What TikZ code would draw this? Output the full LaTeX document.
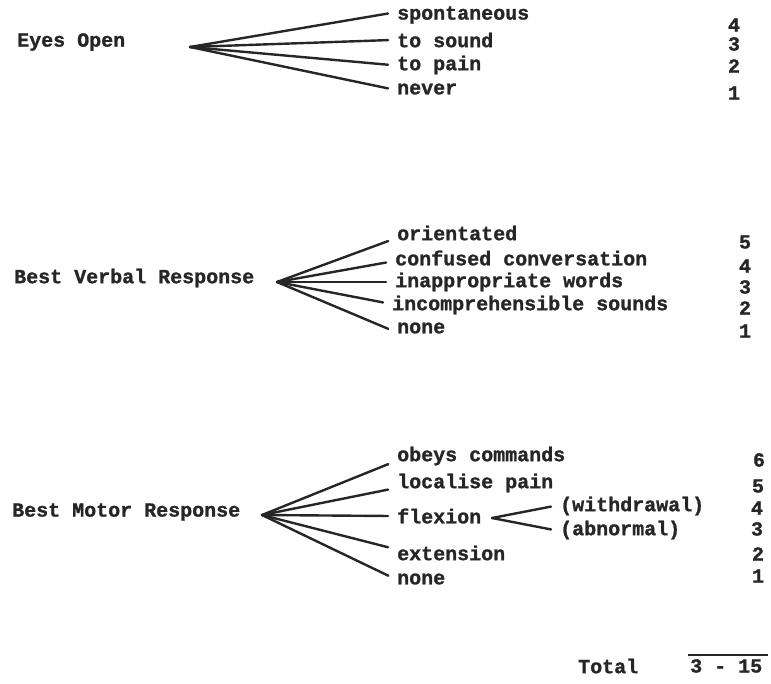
\documentclass[tikz,border=0pt]{standalone}
\usepackage{fontspec}
\setmonofont[BoldFeatures={FakeBold=1.2}]{Liberation Mono}
\usetikzlibrary{positioning}
\tikzset{
	typed/.style ={font=\ttfamily\bfseries\fontsize{20}{20}\selectfont, text=black!85},
	choice/.style={typed, anchor=west, inner xsep=6pt, inner ysep=1pt},
	score/.style ={typed, anchor=center, inner sep=0pt},
	branch/.style={line width=2.4pt, draw=black!85, line cap=round, shorten >=3pt},
}
\begin{document}
\begin{tikzpicture}[x=1pt, y=-1pt]
	\useasboundingbox (0,0) rectangle (771,683);
	% eyes open
	\node[choice] (eyes) at (11,42) {Eyes Open};
	\coordinate (heyes) at (190,47);
	\node[choice] (spon)  at (391,15) {spontaneous};
	\node[choice] (sound) at (391,40) {to sound};
	\node[choice] (pain)  at (391,65) {to pain};
	\node[choice] (never) at (391,89) {never};
	\draw[branch] (heyes) -- ([yshift=2pt]spon.west);
	\draw[branch] (heyes) -- (sound.west);
	\draw[branch] (heyes) -- (pain.west);
	\draw[branch] (heyes) -- (never.west);
	\node[score] (e4) at (734,25) {4};
	\node[score] (e3) at (734,44) {3};
	\node[score] (e2) at (734,66) {2};
	\node[score] (e1) at (734,93) {1};
	% best verbal response
	\node[choice] (verbal) at (8,278) {Best Verbal Response};
	\coordinate (hverbal) at (277,282);
	\node[choice] (orient) at (391,233) {orientated};
	\node[choice] (confus) at (389,258) {confused conversation};
	\node[choice] (inappr) at (389,282) {inappropriate words};
	\node[choice] (incomp) at (386,305) {incomprehensible sounds};
	\node[choice] (vnone)  at (391,328) {none};
	\draw[branch] (hverbal) -- ([yshift=-7pt]orient.west);
	\draw[branch] (hverbal) -- ([yshift=-4pt]confus.west);
	\draw[branch] (hverbal) -- (inappr.west);
	\draw[branch] (hverbal) -- ([yshift=2pt]incomp.west);
	\draw[branch] (hverbal) -- ([yshift=-2pt]vnone.west);
	\node[score] (v5) at (745,242) {5};
	\node[score] (v4) at (745,266) {4};
	\node[score] (v3) at (745,287) {3};
	\node[score] (v2) at (745,308) {2};
	\node[score] (v1) at (745,331) {1};
	% best motor response
	\node[choice] (motor) at (6,512) {Best Motor Response};
	\coordinate (hmotor) at (262,515);
	\node[choice] (obeys)  at (391,456) {obeys commands};
	\node[choice] (local)  at (391,483) {localise pain};
	\node[choice] (flex)   at (391,516) {flexion};
	\node[choice] (exten)  at (391,553) {extension};
	\node[choice] (mnone)  at (391,579) {none};
	\draw[branch] (hmotor) -- ([yshift=-7pt]obeys.west);
	\draw[branch] (hmotor) -- ([yshift=-6pt]local.west);
	\draw[branch] (hmotor) -- (flex.west);
	\draw[branch] (hmotor) -- ([yshift=5pt]exten.west);
	\draw[branch] (hmotor) -- ([yshift=2pt]mnone.west);
	\coordinate (hflex) at (492,518);
	\node[choice] (withd) at (554,506) {(withdrawal)};
	\node[choice] (abnor) at (554,530) {(abnormal)};
	\draw[branch] (hflex) -- (withd.west);
	\draw[branch] (hflex) -- (abnor.west);
	\node[score] (m6) at (759,460) {6};
	\node[score] (m5) at (758,486) {5};
	\node[score] (m4) at (757,508) {4};
	\node[score] (m3) at (757,529) {3};
	\node[score] (m2) at (758,554) {2};
	\node[score] (m1) at (758,576) {1};
	% total
	\node[choice] (total) at (572,666) {Total};
	\node[choice] (range) at (684,666) {3 - 15};
	\draw[line width=2pt, draw=black!85] ([yshift=3pt]range.north west) ++(4,0) -- ([yshift=3pt]range.north east);
\end{tikzpicture}
\end{document}
